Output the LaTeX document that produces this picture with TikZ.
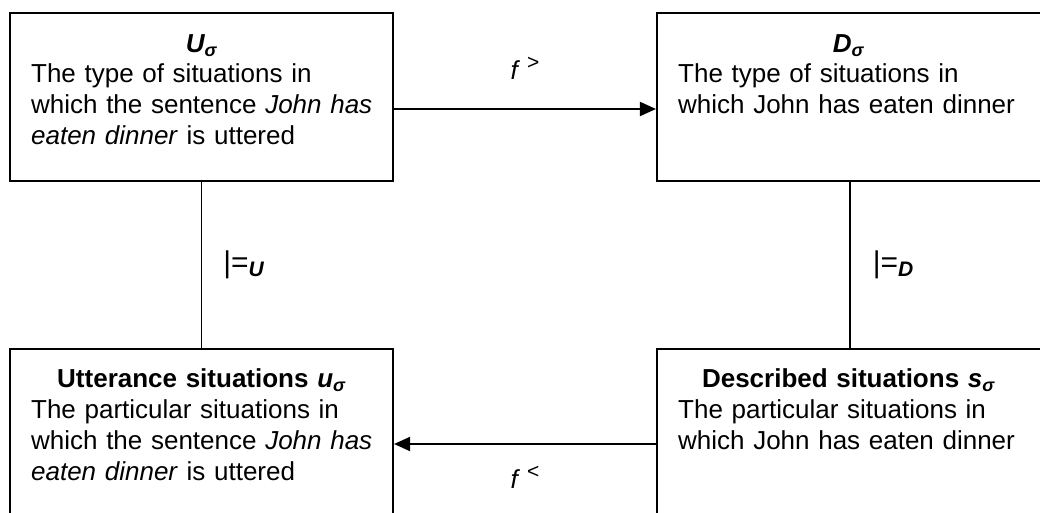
\documentclass[tikz,border=0pt]{standalone}
\usepackage{fontspec}
\setmainfont{Liberation Sans}
\usetikzlibrary{arrows.meta,positioning}

% small lowered / raised indices in running text
\newcommand\lowidx[1]{\raisebox{-4pt}{\fontsize{18}{18}\selectfont #1}}
\newcommand\highidx[1]{\raisebox{10pt}{\fontsize{21}{21}\selectfont #1}}
% centred heading line of a box
\newcommand\boxhead[1]{\makebox[340pt]{#1}}

\begin{document}
\begin{tikzpicture}[x=1pt, y=1pt, line join=miter,
    box/.style={draw, line width=2.1pt, minimum width=#1, minimum height=168pt, inner sep=0pt},
    boxtext/.style={inner sep=0pt, text width=370pt, align=left, font=\fontsize{26}{30.8}\selectfont},
    lbl/.style={inner sep=0pt, font=\fontsize{26}{30.8}\selectfont},
    link/.style={line width=1.5pt},
    map/.style={line width=1.9pt, -{Triangle[length=16pt, width=14pt]}}]

  \useasboundingbox (0,0) rectangle (1040,-513);
  \clip (0,0) rectangle (1040,-513);

  % the four boxes
  \node[box=383pt] (Utype) at (201.5,-97) {};
  \node[box=386pt] (Dtype) at (850,-97) {};
  \node[box=383pt] (Usit) at (201.5,-433) {};
  \node[box=386pt] (Dsit) at (850,-433) {};

  \node[boxtext, below right=22pt and 22pt of Utype.north west] (Utxt)
    {\boxhead{\bfseries\itshape U\lowidx{σ}}\\
     The type of situations in\\
     which the sentence \textit{John has}\\
     \textit{eaten dinner} is uttered};
  \node[boxtext, below right=22pt and 22pt of Dtype.north west] (Dtxt)
    {\boxhead{\bfseries\itshape D\lowidx{σ}}\\
     The type of situations in\\
     which John has eaten dinner};
  \node[boxtext, below right=21pt and 22pt of Usit.north west] (Usittxt)
    {\boxhead{\bfseries Utterance situations \textit{u}\lowidx{\itshape σ}}\\
     The particular situations in\\
     which the sentence \textit{John has}\\
     \textit{eaten dinner} is uttered};
  \node[boxtext, below right=21pt and 22pt of Dsit.north west] (Dsittxt)
    {\boxhead{\bfseries Described situations \textit{s}\lowidx{\itshape σ}}\\
     The particular situations in\\
     which John has eaten dinner};

  % vertical links with their relations
  \draw[link] (Utype) -- (Usit)
    node[lbl, midway, right=21pt, font=\fontsize{30}{30}\selectfont] (modU)
      {|=\raisebox{-4pt}{\fontsize{21}{21}\selectfont\bfseries\itshape U}};
  \draw[link] (Dtype) -- (Dsit)
    node[lbl, midway, right=22pt, font=\fontsize{30}{30}\selectfont] (modD)
      {|=\raisebox{-4pt}{\fontsize{21}{21}\selectfont\bfseries\itshape D}};

  % the two maps
  \draw[map] ([yshift=-12pt]Utype.east) -- ([yshift=-12pt]Dtype.west)
    node[lbl, midway, above=29pt] (fup) {\textit{f} \highidx{>}};
  \draw[map] ([yshift=-11pt]Dsit.west) -- ([yshift=-11pt]Usit.east)
    node[lbl, midway, below=21pt] (fdown) {\textit{f} \highidx{<}};
\end{tikzpicture}
\end{document}
